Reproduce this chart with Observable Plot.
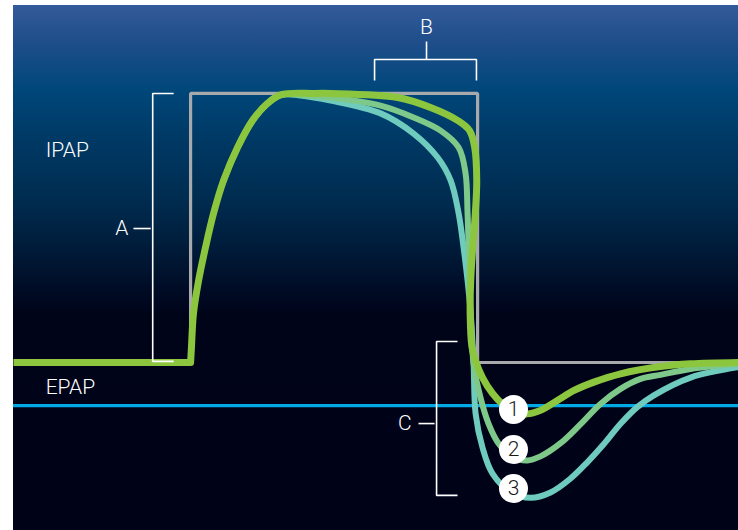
<!DOCTYPE html>
<html>
<head>
<meta charset="utf-8">
<script src="https://cdn.jsdelivr.net/npm/d3@7"></script>
<script src="https://cdn.jsdelivr.net/npm/@observablehq/plot@0.6"></script>
<style>
  html, body { margin: 0; padding: 0; background: #fff; overflow: hidden; }
  #chart { position: absolute; left: 13px; top: 5px; width: 725px; height: 525px; }
  #chart svg { display: block; }
</style>
</head>
<body>
<div id="chart"></div>
<script>
// time in ms (0 = start of inspiration), pressure in arbitrary units (0 = baseline, 10 = IPAP)
const timeDomain = [-617, 1909];
const pressureDomain = [-6.245, 13.27];

const setPressure = [[0, 0], [0, 10], [1000, 10], [1000, 0], [1909, 0]];
const epapLevel = -1.6;

const baseline = [[-617, 0], [0, 0]];
const rise = [[0, 0], [3, 0.56], [10, 1.82], [28, 3.05], [52, 4.28], [80, 5.54], [115, 6.77], [164, 8.0], [216, 9.0],
  [268, 9.63], [314, 9.95]];

const series1 = [[429, 10.0], [488, 10.0], [721, 9.85], [836, 9.48], [930, 9.0], [972, 8.62], [990, 7.99], [997, 6.77],
  [992, 5.54], [983, 4.28], [976, 3.05], [974, 1.82], [980, 0.6], [993, 0.05], [1017, -0.56], [1052, -1.15], [1087, -1.55],
  [1125, -1.82], [1173, -1.91], [1219, -1.78], [1278, -1.41], [1336, -1.04], [1405, -0.73], [1498, -0.42], [1637, -0.15],
  [1742, -0.05], [1909, 0]];

const series2 = [[429, 9.9], [488, 9.85], [662, 9.55], [777, 9.11], [871, 8.62], [934, 7.99], [958, 7.03], [965, 5.54],
  [969, 4.28], [972, 3.05], [976, 1.82], [986, -0.04], [1010, -1.30], [1038, -2.27], [1073, -3.01], [1120, -3.5],
  [1173, -3.64], [1219, -3.49], [1289, -3.0], [1359, -2.29], [1428, -1.54], [1498, -0.98], [1568, -0.61], [1637, -0.46],
  [1742, -0.24], [1909, -0.05]];

const series3 = [[429, 9.85], [488, 9.74], [662, 9.26], [777, 8.51], [861, 7.62], [906, 6.77], [934, 5.54], [951, 4.28],
  [965, 3.05], [976, 1.82], [986, -0.04], [993, -1.90], [1017, -3.16], [1052, -4.13], [1120, -4.85], [1185, -5.03],
  [1254, -4.83], [1324, -4.31], [1382, -3.71], [1440, -3.03], [1498, -2.28], [1556, -1.66], [1614, -1.22], [1742, -0.56],
  [1909, -0.17]];

const seriesColors = ["#8cc63f", "#7ec98a", "#6ecbbd"];

const bracketA = [[-59, 10], [-132, 10], [-132, 0.04], [-59, 0.04]];
const tickA = [[-199, 4.98], [-139, 4.98]];
const bracketB = [[641, 10.48], [641, 11.26], [996, 11.26], [996, 10.48]];
const tickB = [[822, 11.26], [822, 11.93]];
const bracketC = [[930, 0.78], [857, 0.78], [857, -4.94], [930, -4.94]];
const tickC = [[794, -2.27], [850, -2.27]];

const sideLabels = [
  {t: -505, p: 7.88, text: "IPAP"},
  {t: -505, p: -0.93, text: "EPAP"}
];
const bracketLabels = [
  {t: -240, p: 4.98, text: "A"},
  {t: 822, p: 12.45, text: "B"},
  {t: 746, p: -2.27, text: "C"}
];

const markers = [
  {t: 1125, p: -1.75, label: "1"},
  {t: 1125, p: -3.23, label: "2"},
  {t: 1125, p: -4.68, label: "3"}
];

const curve1 = rise.concat(series1);
const curve2 = rise.slice(6).concat(series2);
const curve3 = rise.slice(6).concat(series3);

const X = d => d[0], Y = d => d[1];
const whiteLine = (d) => Plot.line(d, {x: X, y: Y, stroke: "#ffffff", strokeWidth: 1.6, strokeLinecap: "butt", strokeLinejoin: "miter"});
const font = {fill: "#ffffff", fontSize: 21, fontFamily: "Roboto", fontWeight: 300};

const chart = Plot.plot({
  width: 725,
  height: 525,
  margin: 0,
  x: {domain: timeDomain, axis: null},
  y: {domain: pressureDomain, axis: null},
  style: {
    background: "linear-gradient(to bottom, #335a9a 0%, #1f4e8a 7%, #00477a 16%, #003a66 25%, #002c50 37%, #001a38 47%, #000c26 54%, #000419 59%, #000218 100%)",
    overflow: "visible"
  },
  marks: [
    Plot.ruleY([epapLevel], {stroke: "#00a9e6", strokeWidth: 3.2}),
    Plot.line(setPressure, {x: X, y: Y, stroke: "#a7a9ac", strokeWidth: 3.2, strokeLinejoin: "miter", strokeLinecap: "butt"}),
    Plot.line(curve3, {x: X, y: Y, stroke: seriesColors[2], strokeWidth: 6, curve: "catmull-rom"}),
    Plot.line(curve2, {x: X, y: Y, stroke: seriesColors[1], strokeWidth: 6, curve: "catmull-rom"}),
    Plot.line(baseline, {x: X, y: Y, stroke: seriesColors[0], strokeWidth: 7, strokeLinecap: "butt"}),
    Plot.line(curve1, {x: X, y: Y, stroke: seriesColors[0], strokeWidth: 7, curve: "catmull-rom"}),
    whiteLine(bracketA), whiteLine(tickA),
    whiteLine(bracketB), whiteLine(tickB),
    whiteLine(bracketC), whiteLine(tickC),
    Plot.text(sideLabels, {x: "t", y: "p", text: "text", textAnchor: "start", ...font}),
    Plot.text(bracketLabels, {x: "t", y: "p", text: "text", textAnchor: "middle", ...font}),
    Plot.dot(markers, {x: "t", y: "p", r: 14.5, fill: "#ffffff", stroke: "none"}),
    Plot.text(markers, {x: "t", y: "p", text: "label", fill: "#1a1a1a", fontSize: 21, fontFamily: "Roboto", fontWeight: 300})
  ]
});
document.getElementById("chart").appendChild(chart);
</script>
</body>
</html>
